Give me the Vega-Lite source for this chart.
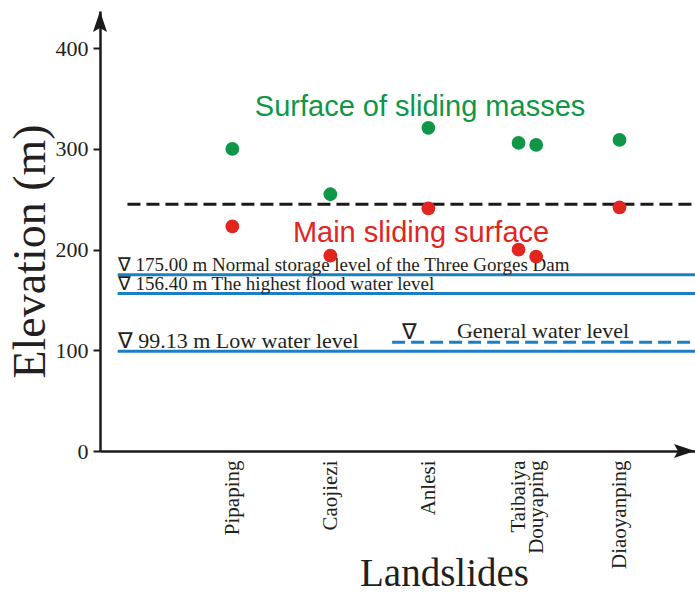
{
  "$schema": "https://vega.github.io/schema/vega-lite/v6.json",
  "width": 595,
  "height": 440,
  "autosize": {"type": "none"},
  "padding": {"left": 100, "top": 11, "right": 0, "bottom": 141},
  "background": "white",
  "config": {"view": {"stroke": null}, "font": "Liberation Serif"},
  "datasets": {
    "landslides": [
      {"landslide": "Pipaping", "pos": 1.0, "surface": 300, "main": 223},
      {"landslide": "Caojiezi", "pos": 2.0, "surface": 255, "main": 194},
      {"landslide": "Anlesi", "pos": 3.0, "surface": 321, "main": 241},
      {"landslide": "Taibaiya", "pos": 3.92, "surface": 306, "main": 200},
      {"landslide": "Douyaping", "pos": 4.1, "surface": 304, "main": 193},
      {"landslide": "Diaoyanping", "pos": 4.95, "surface": 309, "main": 242}
    ],
    "water": [
      {"elev": 175.0, "text": "∇ 175.00 m Normal storage level of the Three Gorges Dam"},
      {"elev": 156.4, "text": "∇ 156.40 m The highest flood water level"},
      {"elev": 99.13, "text": "∇ 99.13 m Low water level"}
    ],
    "general": [{"elev": 108, "symbol": "∇", "text": "General water level"}],
    "ref": [{"elev": 245}]
  },
  "layer": [
    {
      "data": {"name": "landslides"},
      "mark": {"type": "point", "filled": true, "shape": "circle", "size": 190, "color": "#0f9747", "opacity": 1},
      "encoding": {
        "x": {
          "field": "pos", "type": "quantitative",
          "scale": {"domain": [-0.35, 5.72], "nice": false, "zero": false},
          "axis": {
            "values": [1, 2, 3, 3.92, 4.1, 4.95],
            "labelExpr": "datum.value < 1.5 ? 'Pipaping' : datum.value < 2.5 ? 'Caojiezi' : datum.value < 3.5 ? 'Anlesi' : datum.value < 4 ? 'Taibaiya' : datum.value < 4.5 ? 'Douyaping' : 'Diaoyanping'",
            "labelAngle": -90, "labelAlign": "right", "labelBaseline": "middle",
            "labelFont": "Liberation Serif", "labelFontSize": 21, "labelColor": "#231f20",
            "labelPadding": 9, "labelOverlap": false, "labelBound": false, "labelFlush": false,
            "ticks": false, "grid": false,
            "domainColor": "#1a1a1a", "domainWidth": 2.5,
            "title": "Landslides", "titleFont": "Liberation Serif", "titleFontSize": 39,
            "titleFontWeight": "normal", "titleColor": "#231f20",
            "titleX": 344, "titleY": 134, "titleAlign": "center", "titleBaseline": "alphabetic"
          }
        },
        "y": {
          "field": "surface", "type": "quantitative",
          "scale": {"domain": [0, 437], "nice": false, "zero": false},
          "axis": {
            "values": [0, 100, 200, 300, 400],
            "labelFont": "Liberation Serif", "labelFontSize": 22, "labelColor": "#231f20", "labelPadding": 5,
            "tickSize": 7, "tickWidth": 2, "tickColor": "#1a1a1a",
            "grid": false, "domainColor": "#1a1a1a", "domainWidth": 2.5,
            "title": "Elevation (m)", "titleFont": "Liberation Serif", "titleFontSize": 46,
            "titleFontWeight": "normal", "titleColor": "#231f20",
            "titleAngle": -90, "titleX": -56, "titleY": 240, "titleAlign": "center", "titleBaseline": "alphabetic"
          }
        }
      }
    },
    {
      "data": {"name": "water"},
      "mark": {"type": "rule", "color": "#1b80c3", "strokeWidth": 3},
      "encoding": {
        "x": {"datum": -0.17, "type": "quantitative"},
        "x2": {"datum": 5.72},
        "y": {"field": "elev", "type": "quantitative", "title": "Elevation (m)"}
      }
    },
    {
      "data": {"name": "general"},
      "mark": {"type": "rule", "color": "#1b80c3", "strokeWidth": 3, "strokeDash": [13, 6]},
      "encoding": {
        "x": {"datum": 2.63, "type": "quantitative"},
        "x2": {"datum": 5.72},
        "y": {"field": "elev", "type": "quantitative", "title": "Elevation (m)"}
      }
    },
    {
      "data": {"name": "ref"},
      "mark": {"type": "rule", "color": "#1a1a1a", "strokeWidth": 3, "strokeDash": [13, 6]},
      "encoding": {
        "x": {"datum": -0.07, "type": "quantitative"},
        "x2": {"datum": 5.72},
        "y": {"field": "elev", "type": "quantitative", "title": "Elevation (m)"}
      }
    },
    {
      "data": {"name": "water"},
      "mark": {"type": "text", "align": "left", "baseline": "alphabetic", "dy": -3.5, "font": "Liberation Serif", "color": "#231f20"},
      "encoding": {
        "x": {"datum": -0.17, "type": "quantitative"},
        "y": {"field": "elev", "type": "quantitative", "title": "Elevation (m)"},
        "text": {"field": "text"},
        "size": {"condition": {"test": "datum.elev < 120", "value": 22}, "value": 19}
      }
    },
    {
      "data": {"name": "general"},
      "mark": {"type": "text", "align": "center", "baseline": "alphabetic", "dy": -3, "font": "Liberation Serif", "fontSize": 22, "color": "#231f20"},
      "encoding": {
        "x": {"datum": 2.81, "type": "quantitative"},
        "y": {"field": "elev", "type": "quantitative", "title": "Elevation (m)"},
        "text": {"field": "symbol"}
      }
    },
    {
      "data": {"name": "general"},
      "mark": {"type": "text", "align": "center", "baseline": "alphabetic", "dy": -4, "font": "Liberation Serif", "fontSize": 22, "color": "#231f20"},
      "encoding": {
        "x": {"datum": 4.17, "type": "quantitative"},
        "y": {"field": "elev", "type": "quantitative", "title": "Elevation (m)"},
        "text": {"field": "text"}
      }
    },
    {
      "data": {"name": "landslides"},
      "mark": {"type": "point", "filled": true, "shape": "circle", "size": 190, "color": "#e0261f", "opacity": 1},
      "encoding": {
        "x": {"field": "pos", "type": "quantitative", "title": "Landslides"},
        "y": {"field": "main", "type": "quantitative", "title": "Elevation (m)"}
      }
    },
    {
      "data": {"values": [{"label": "Surface of sliding masses"}]},
      "mark": {"type": "text", "align": "center", "baseline": "alphabetic", "font": "Liberation Sans", "fontSize": 29, "color": "#0f9747"},
      "encoding": {
        "x": {"datum": 2.915, "type": "quantitative"},
        "y": {"datum": 332.7, "type": "quantitative"},
        "text": {"field": "label"}
      }
    },
    {
      "data": {"values": [{"label": "Main sliding surface"}]},
      "mark": {"type": "text", "align": "center", "baseline": "alphabetic", "font": "Liberation Sans", "fontSize": 29, "color": "#e0261f"},
      "encoding": {
        "x": {"datum": 2.925, "type": "quantitative"},
        "y": {"datum": 207.6, "type": "quantitative"},
        "text": {"field": "label"}
      }
    },
    {
      "data": {"values": [{"arrow": "Elevation"}]},
      "mark": {"type": "point", "filled": true, "size": 400, "color": "#1a1a1a", "opacity": 1, "shape": "M0,0L0.7,2.1L0,1.7L-0.7,2.1Z"},
      "encoding": {
        "x": {"datum": -0.35, "type": "quantitative"},
        "y": {"datum": 437, "type": "quantitative"}
      }
    },
    {
      "data": {"values": [{"arrow": "Landslides"}]},
      "mark": {"type": "point", "filled": true, "size": 400, "color": "#1a1a1a", "opacity": 1, "shape": "M0,0L-2.1,-0.7L-1.7,0L-2.1,0.7Z"},
      "encoding": {
        "x": {"datum": 5.72, "type": "quantitative"},
        "y": {"datum": 0, "type": "quantitative"}
      }
    }
  ]
}
